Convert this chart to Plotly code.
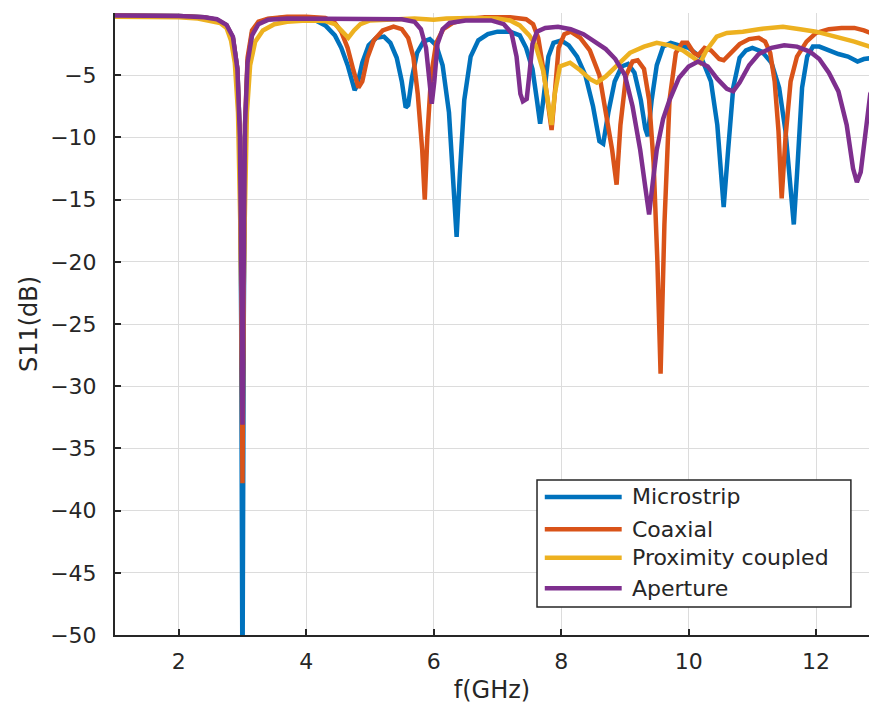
import plotly.graph_objects as go

# Return loss S11 (dB) versus frequency (GHz) for four feeding techniques
series_names = ["Microstrip", "Coaxial", "Proximity coupled", "Aperture"]
series_colors = ["#0072BD", "#D95319", "#EDB120", "#7E2F8E"]

microstrip_f = [1.0, 1.5, 2.0, 2.4, 2.6, 2.75, 2.85, 2.92, 2.96, 2.98, 3.0, 3.02, 3.04, 3.08,
                3.15, 3.25, 3.4, 3.7, 4.0, 4.15, 4.3, 4.45, 4.55, 4.65, 4.72, 4.76, 4.8, 4.88,
                4.98, 5.1, 5.22, 5.32, 5.42, 5.5, 5.56, 5.6, 5.66, 5.74, 5.84, 5.94, 6.04, 6.14,
                6.24, 6.32, 6.36, 6.41, 6.48, 6.58, 6.7, 6.85, 7.0, 7.2, 7.35, 7.45, 7.55, 7.62,
                7.67, 7.72, 7.8, 7.88, 8.0, 8.12, 8.25, 8.38, 8.5, 8.6, 8.66, 8.74, 8.84, 8.95,
                9.05, 9.15, 9.25, 9.32, 9.36, 9.42, 9.5, 9.6, 9.72, 9.85, 10.0, 10.2, 10.35,
                10.45, 10.5, 10.55, 10.62, 10.7, 10.8, 10.9, 11.0, 11.15, 11.3, 11.42, 11.52,
                11.6, 11.65, 11.7, 11.78, 11.86, 11.95, 12.05, 12.2, 12.35, 12.5, 12.65, 12.75,
                12.9]
microstrip_s11 = [-0.2, -0.2, -0.25, -0.35, -0.55, -1.0, -2.0, -4.5, -10, -25, -55, -25, -10, -4.0,
                  -1.6, -0.8, -0.5, -0.35, -0.4, -0.6, -1.0, -1.8, -2.8, -4.2, -5.6, -6.2, -5.8, -4.0,
                  -2.6, -2.0, -1.9, -2.4, -3.6, -5.5, -7.6, -7.4, -5.2, -3.2, -2.3, -2.1, -2.6, -4.2,
                  -8.0, -14.0, -18.0, -13.0, -7.0, -3.5, -2.2, -1.7, -1.5, -1.5, -1.8, -2.8, -4.5, -7.0,
                  -8.9, -7.0, -3.5, -2.4, -2.2, -2.6, -3.5, -5.0, -7.5, -10.3, -10.5, -8.0, -5.5, -4.3,
                  -4.1, -4.8, -7.0, -9.3, -9.9, -7.0, -4.2, -2.7, -2.4, -2.6, -2.8, -3.6, -5.5,
                  -9.0, -12.5, -15.6, -11.0, -6.0, -3.6, -3.0, -2.8, -3.1, -4.0, -6.0, -9.5,
                  -14.0, -17.0, -13.0, -6.0, -3.5, -2.7, -2.7, -3.0, -3.3, -3.5, -3.9, -3.7,
                  -3.6]

coaxial_f = [1.0, 1.5, 2.0, 2.4, 2.6, 2.75, 2.85, 2.92, 2.96, 2.98, 3.0, 3.02, 3.04, 3.08,
             3.15, 3.25, 3.4, 3.7, 4.0, 4.3, 4.45, 4.55, 4.65, 4.74, 4.82, 4.88, 4.96, 5.06,
             5.2, 5.37, 5.5, 5.6, 5.68, 5.75, 5.82, 5.86, 5.9, 5.96, 6.04, 6.15, 6.3, 6.5,
             6.8, 7.2, 7.45, 7.56, 7.64, 7.72, 7.8, 7.85, 7.9, 7.96, 8.05, 8.15, 8.3, 8.45,
             8.6, 8.7, 8.8, 8.87, 8.93, 9.02, 9.12, 9.2, 9.3, 9.38, 9.45, 9.51, 9.56, 9.62,
             9.7, 9.8, 9.9, 9.98, 10.08, 10.15, 10.25, 10.35, 10.48, 10.55, 10.65, 10.8,
             10.95, 11.1, 11.2, 11.28, 11.35, 11.41, 11.46, 11.52, 11.6, 11.7, 11.85, 12.0,
             12.2, 12.4, 12.6, 12.75, 12.9]
coaxial_s11 = [-0.2, -0.2, -0.25, -0.35, -0.55, -1.0, -2.0, -4.5, -10, -22, -37.8, -22, -9, -3.6,
               -1.4, -0.7, -0.45, -0.3, -0.3, -0.4, -0.8, -1.5, -2.8, -4.6, -6.0, -5.5, -3.6, -2.2,
               -1.4, -1.1, -1.3, -2.0, -3.5, -6.5, -11.0, -15.0, -10.0, -5.0, -2.4, -1.3, -0.8, -0.5,
               -0.35, -0.35, -0.5, -0.9, -2.0, -4.5, -7.5, -9.4, -6.5, -2.8, -1.7, -1.5, -2.0, -3.0,
               -5.0, -8.0, -11.0, -13.8, -9.0, -5.0, -3.9, -3.8, -4.5, -7.0, -12.0, -20.0, -29.0, -17.0,
               -7.0, -3.2, -2.4, -2.4, -3.2, -3.4, -2.8, -3.0, -3.7, -3.8, -3.3, -2.5,
               -2.1, -2.0, -2.3, -3.2, -5.5, -9.5, -14.9, -10.0, -5.5, -3.5, -2.3, -1.6,
               -1.3, -1.2, -1.2, -1.4, -1.7]

proximity_f = [1.0, 1.5, 2.0, 2.3, 2.5, 2.65, 2.75, 2.82, 2.88, 2.93, 2.97, 3.0, 3.03, 3.07,
               3.12, 3.2, 3.32, 3.5, 3.7, 4.0, 4.3, 4.45, 4.55, 4.66, 4.75, 4.85, 5.0, 5.3,
               5.7, 6.0, 6.2, 6.6, 7.0, 7.2, 7.35, 7.5, 7.6, 7.72, 7.8, 7.85, 7.9, 7.98,
               8.14, 8.3, 8.45, 8.56, 8.7, 8.85, 9.08, 9.3, 9.5, 9.7, 9.91, 10.05, 10.18, 10.28,
               10.44, 10.6, 10.85, 11.1, 11.48, 11.75, 12.0, 12.3, 12.6, 12.9]
proximity_s11 = [-0.3, -0.3, -0.35, -0.45, -0.6, -0.8, -1.2, -2.2, -4.0, -8.0, -18.0, -30.0, -18.0, -8.0,
                 -4.2, -2.3, -1.4, -0.9, -0.7, -0.6, -0.65, -0.9, -1.4, -2.0, -1.4, -0.9, -0.6, -0.5,
                 -0.45, -0.55, -0.45, -0.4, -0.45, -0.6, -1.0, -1.8, -2.6, -4.7, -7.5, -9.0, -6.5, -4.3,
                 -4.0, -4.6, -5.3, -5.6, -5.1, -4.3, -3.2, -2.7, -2.4, -2.6, -3.0, -3.5, -4.0, -3.0,
                 -1.9, -1.6, -1.5, -1.3, -1.1, -1.3, -1.5, -1.9, -2.3, -2.8]

aperture_f = [1.0, 1.5, 2.0, 2.4, 2.6, 2.75, 2.85, 2.92, 2.96, 2.98, 3.0, 3.02, 3.04, 3.08,
              3.15, 3.25, 3.4, 3.7, 4.5, 5.5, 5.7, 5.8, 5.88, 5.94, 5.97, 6.01, 6.06, 6.14,
              6.25, 6.5, 6.9, 7.1, 7.22, 7.3, 7.36, 7.4, 7.46, 7.5, 7.55, 7.62, 7.75, 7.95,
              8.15, 8.35, 8.55, 8.7, 8.85, 9.0, 9.12, 9.24, 9.32, 9.38, 9.44, 9.5, 9.6, 9.7,
              9.85, 10.0, 10.15, 10.3, 10.45, 10.6, 10.7, 10.8, 10.95, 11.1, 11.3, 11.5, 11.7,
              11.9, 12.05, 12.2, 12.35, 12.48, 12.58, 12.64, 12.7, 12.78, 12.85, 12.9]
aperture_s11 = [-0.2, -0.2, -0.25, -0.35, -0.5, -0.95, -1.9, -4.5, -10, -20, -33.1, -20, -9, -4.0,
                -1.8, -0.9, -0.55, -0.45, -0.45, -0.5, -0.7, -1.3, -2.8, -5.5, -7.3, -5.5, -2.5, -1.3,
                -0.8, -0.6, -0.6, -0.9, -1.6, -3.5, -6.5, -7.1, -6.9, -5.0, -2.5, -1.5, -1.2, -1.1,
                -1.3, -1.7, -2.4, -2.9, -3.7, -5.0, -7.5, -11.0, -14.0, -16.2, -13.5, -11.0, -8.5, -7.0,
                -5.2, -4.3, -3.9, -4.3, -5.3, -6.1, -6.3, -5.6, -4.2, -3.3, -2.8, -2.6, -2.7,
                -3.1, -3.7, -4.8, -6.3, -9.0, -12.5, -13.6, -12.8, -9.0, -6.5, -6.0]

series_f = [microstrip_f, coaxial_f, proximity_f, aperture_f]
series_s11 = [microstrip_s11, coaxial_s11, proximity_s11, aperture_s11]

x_ticks = [2, 4, 6, 8, 10, 12]
y_ticks = [-50, -45, -40, -35, -30, -25, -20, -15, -10, -5]

FONT = "DejaVu Sans"
INK = "#262626"

fig = go.Figure()
for name, color, f, s in zip(series_names, series_colors, series_f, series_s11):
    fig.add_trace(go.Scatter(x=f, y=s, mode="lines", name=name,
                             line=dict(color=color, width=4.5), showlegend=False))

# Boxed legend in the lower right, drawn in paper coordinates
leg_x0, leg_x1 = 0.5597, 0.976
leg_y0, leg_y1 = 0.045, 0.249
shapes = [dict(type="rect", xref="paper", yref="paper", x0=leg_x0, x1=leg_x1, y0=leg_y0, y1=leg_y1,
               line=dict(color=INK, width=1.5), fillcolor="white", layer="above")]
annotations = []
row_y = [0.222, 0.170, 0.124, 0.075]
for name, color, ry in zip(series_names, series_colors, row_y):
    shapes.append(dict(type="line", xref="paper", yref="paper", x0=0.570, x1=0.672, y0=ry, y1=ry,
                       line=dict(color=color, width=4.5), layer="above"))
    annotations.append(dict(xref="paper", yref="paper", x=0.683, y=ry, text=name, showarrow=False,
                            xanchor="left", yanchor="middle",
                            font=dict(family=FONT, size=22, color=INK)))

fig.update_layout(
    width=869, height=715,
    margin=dict(l=115, r=0, t=13, b=80),
    paper_bgcolor="white", plot_bgcolor="white",
    font=dict(family=FONT, size=22, color=INK),
    shapes=shapes, annotations=annotations,
)
fig.update_xaxes(
    range=[1, 12.83], tickvals=x_ticks, ticks="inside", ticklen=6, tickwidth=1.5, tickcolor=INK,
    showline=True, linecolor=INK, linewidth=2, showgrid=True, gridcolor="#dcdcdc", gridwidth=1,
    zeroline=False, tickfont=dict(family=FONT, size=22, color=INK),
    title=dict(text="f(GHz)", font=dict(family=FONT, size=24, color=INK), standoff=8),
    automargin=False, ticklabelstandoff=6,
)
fig.update_yaxes(
    range=[-50, 0], tickvals=y_ticks, ticks="inside", ticklen=6, tickwidth=1.5, tickcolor=INK,
    showline=True, linecolor=INK, linewidth=2, showgrid=True, gridcolor="#dcdcdc", gridwidth=1,
    zeroline=False, tickfont=dict(family=FONT, size=22, color=INK),
    title=dict(text="S11(dB)", font=dict(family=FONT, size=24, color=INK), standoff=6),
    automargin=False, ticklabelstandoff=12,
)

fig.write_html("out.html")
